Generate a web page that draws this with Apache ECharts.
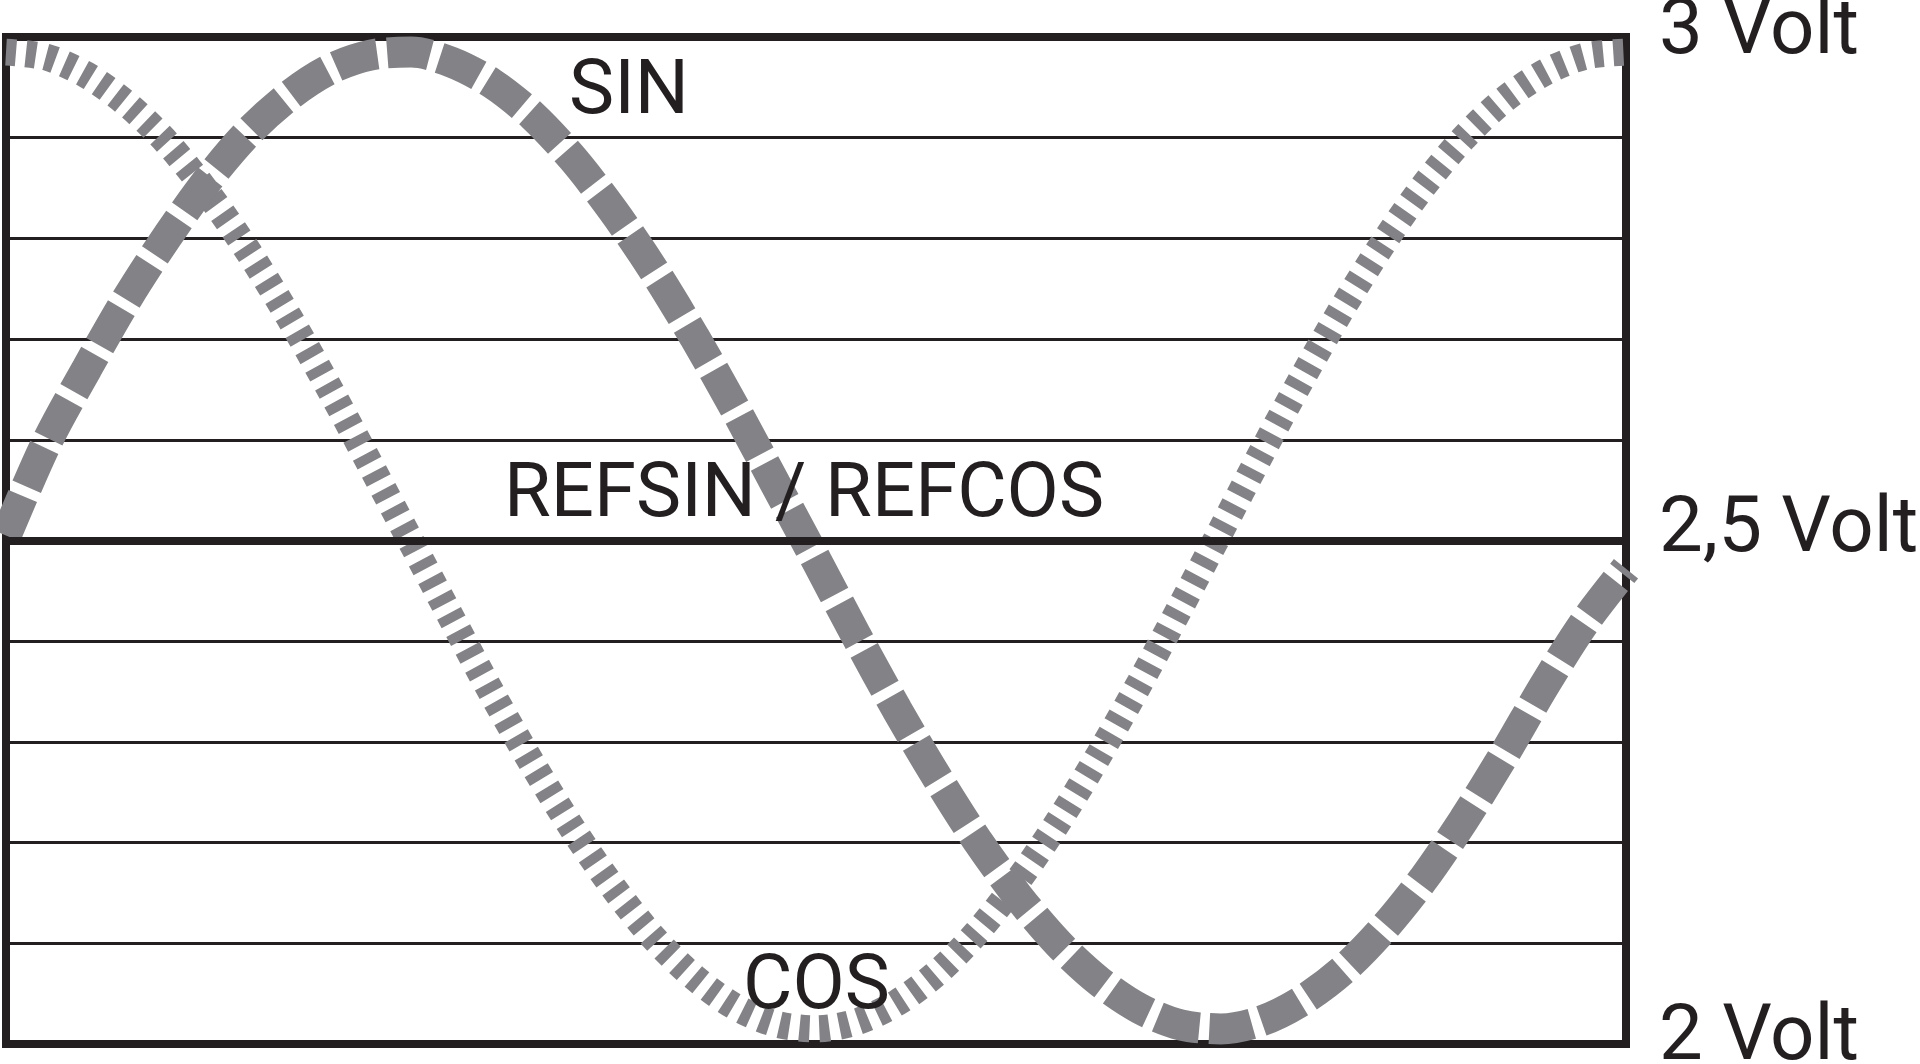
<!DOCTYPE html>
<html>
<head>
<meta charset="utf-8">
<script src="https://cdn.jsdelivr.net/npm/echarts@6/dist/echarts.min.js"></script>
<style>
  html, body { margin: 0; padding: 0; background: #ffffff; }
  #chart { width: 1920px; height: 1064px; }
</style>
</head>
<body>
<div id="chart"></div>
<script>
// Phase positions across the screen (degrees of one period)
const phase = [0, 9, 18, 27, 36, 45, 54, 63, 72, 81, 90, 99, 108, 117, 126, 135, 144, 153, 162, 171,
  180, 189, 198, 207, 216, 225, 234, 243, 252, 261, 270, 279, 288, 297, 306, 315, 324, 333, 342, 351, 360];

// SIN signal (Volt)
const sinVolt = [2.505, 2.597, 2.671, 2.741, 2.803, 2.859, 2.906, 2.942, 2.968, 2.982,
  2.985, 2.975, 2.954, 2.922, 2.879, 2.827, 2.768, 2.702, 2.631, 2.556,
  2.481, 2.405, 2.332, 2.264, 2.201, 2.146, 2.099, 2.062, 2.035, 2.019,
  2.015, 2.023, 2.043, 2.073, 2.114, 2.164, 2.223, 2.288, 2.357, 2.420, 2.472];

// COS signal (Volt)
const cosVolt = [2.985, 2.980, 2.962, 2.933, 2.894, 2.844, 2.786, 2.721, 2.650, 2.575,
  2.499, 2.423, 2.348, 2.278, 2.213, 2.155, 2.105, 2.066, 2.037, 2.020,
  2.015, 2.022, 2.041, 2.071, 2.112, 2.163, 2.222, 2.288, 2.359, 2.434,
  2.510, 2.587, 2.661, 2.731, 2.795, 2.852, 2.900, 2.938, 2.965, 2.981, 2.985];

// Reference level (REFSIN / REFCOS)
const refVolt = 2.5;

// Tick labels on the right
const tickValues = [2, 2.5, 3];
const tickLabels = ['2 Volt', '2,5 Volt', '3 Volt'];

// Curve / annotation names
const seriesNames = ['COS', 'SIN'];
const annotations = ['SIN', 'REFSIN / REFCOS', 'COS'];

const INK = '#231f20';
const GRAY = '#838286';
const FONT = 'Roboto';

const chart = echarts.init(document.getElementById('chart'), null, { renderer: 'canvas' });

const richKeys = ['lo', 'mid', 'hi'];
const option = {
  animation: false,
  backgroundColor: '#ffffff',
  grid: {
    left: 6, right: 294, top: 37, bottom: 20,
    outerBoundsMode: 'none',
    containLabel: false,
    show: true,
    borderColor: INK,
    borderWidth: 8,
    backgroundColor: 'transparent'
  },
  xAxis: {
    type: 'category',
    data: phase,
    boundaryGap: false,
    show: false
  },
  yAxis: {
    type: 'value',
    position: 'right',
    min: 2,
    max: 3,
    interval: 0.1,
    axisLine: { show: false },
    axisTick: { show: false },
    splitLine: { show: true, lineStyle: { color: INK, width: 3 } },
    axisLabel: {
      show: true,
      margin: 33,
      verticalAlign: 'middle',
      fontFamily: FONT,
      fontSize: 78,
      color: INK,
      formatter: function (v) {
        for (let i = 0; i < tickValues.length; i++) {
          if (Math.abs(v - tickValues[i]) < 1e-6) {
            return '{' + richKeys[i] + '|' + tickLabels[i] + '}';
          }
        }
        return '';
      },
      rich: {
        lo: { fontFamily: FONT, fontSize: 78, color: INK, padding: [0, 0, 9, 0] },
        mid: { fontFamily: FONT, fontSize: 78, color: INK, padding: [0, 0, 19, 0] },
        hi: { fontFamily: FONT, fontSize: 78, color: INK, padding: [0, 0, 8, 0] }
      }
    }
  },
  series: [
    {
      name: 'REF',
      type: 'line',
      data: [],
      z: 1,
      silent: true,
      markLine: {
        silent: true,
        symbol: ['none', 'none'],
        label: { show: false },
        lineStyle: { color: INK, width: 8, type: 'solid' },
        data: [{ yAxis: refVolt }]
      }
    },
    {
      name: seriesNames[0],
      type: 'line',
      data: cosVolt,
      z: 3,
      smooth: 0.3,
      showSymbol: false,
      symbol: 'none',
      lineStyle: { color: GRAY, width: 27, type: [10, 10], cap: 'butt' }
    },
    {
      name: seriesNames[1],
      type: 'line',
      data: sinVolt,
      z: 4,
      smooth: 0.3,
      showSymbol: false,
      symbol: 'none',
      lineStyle: { color: GRAY, width: 31, type: [43, 10], cap: 'butt' }
    }
  ],
  graphic: [
    { type: 'text', left: 569, top: 56, z: 10, style: { text: annotations[0], font: '76px ' + FONT, fill: INK } },
    { type: 'text', left: 504, top: 459, z: 10, style: { text: annotations[1], font: '76px ' + FONT, fill: INK } },
    { type: 'text', left: 743, top: 951, z: 10, style: { text: annotations[2], font: '76px ' + FONT, fill: INK } }
  ]
};

chart.setOption(option);
</script>
</body>
</html>
